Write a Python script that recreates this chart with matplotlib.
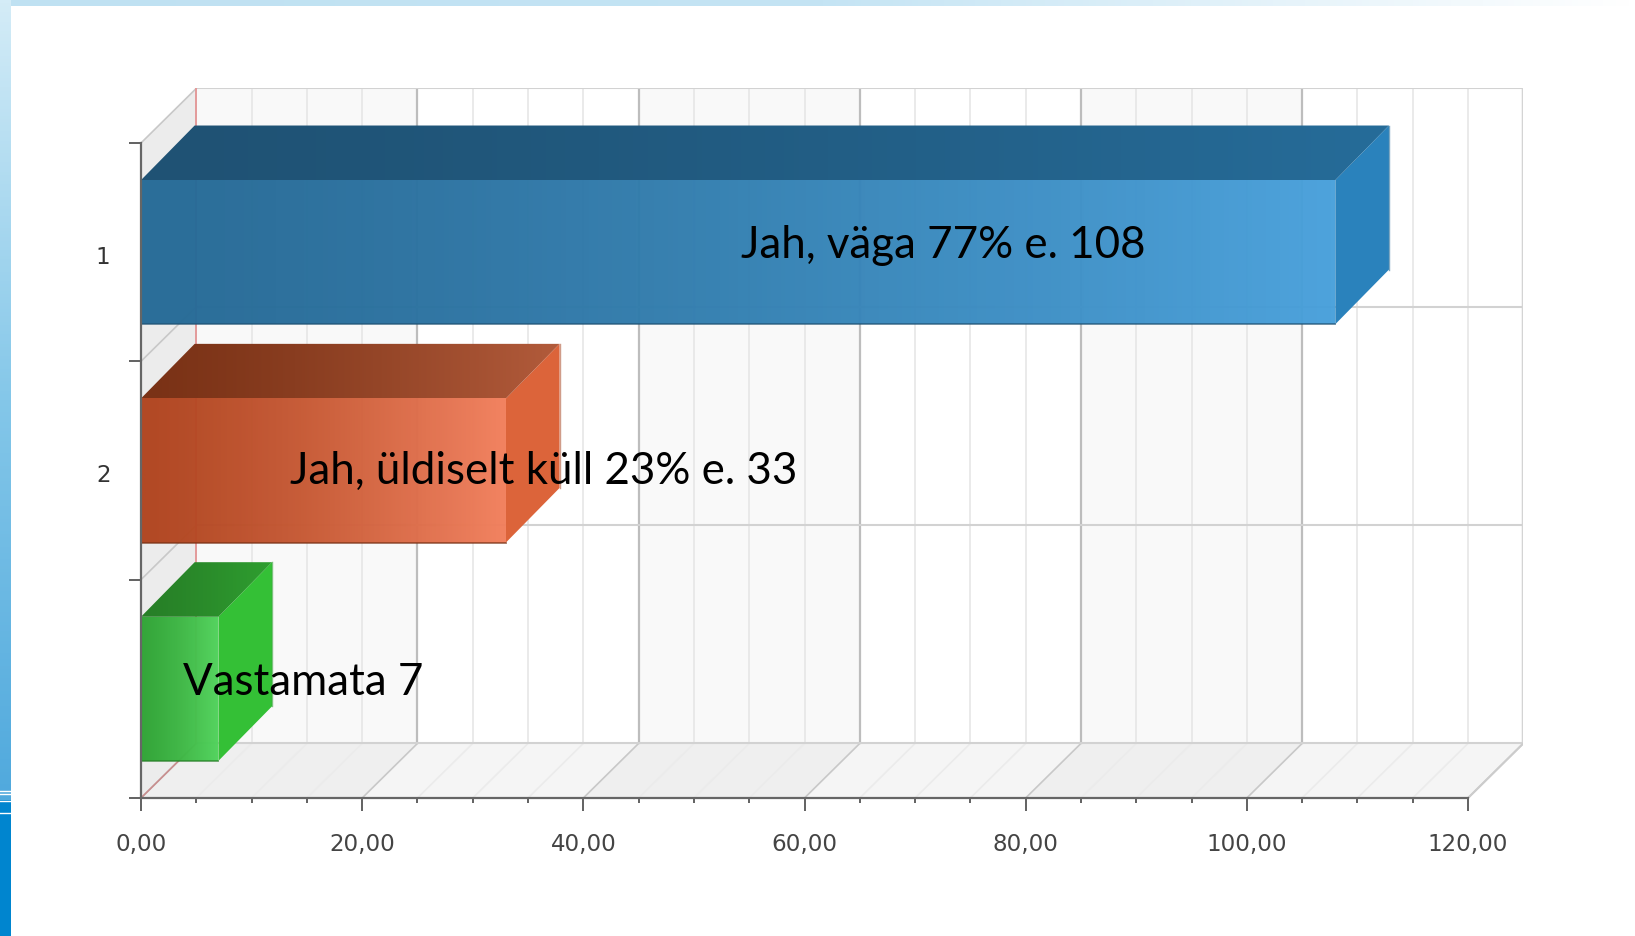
import numpy as np
from matplotlib import pyplot as plt
from matplotlib.colors import LinearSegmentedColormap
from matplotlib.patches import Polygon
from matplotlib.transforms import ScaledTranslation

W, H = 1635, 936

# chart values
categories = ['1', '2', '']
values = [108, 33, 7]
bar_labels = ['Jah, väga 77% e. 108', 'Jah, üldiselt küll 23% e. 33', 'Vastamata 7']
label_x = [54.3, 13.5, 3.8]
label_y = [0.47, 1.505, 2.473]
x_ticks = [0, 20, 40, 60, 80, 100, 120]
x_tick_labels = ['0,00', '20,00', '40,00', '60,00', '80,00', '100,00', '120,00']

front_colors = [('#256a96', '#48a0db'), ('#b0441e', '#f27f5c'), ('#2fa434', '#50d35b')]
top_colors = [('#1f5274', '#266c99'), ('#7a3216', '#b25b3b'), ('#277f27', '#2f9f30')]
side_colors = ['#2a82bc', '#dc643a', '#34c036']

# 3d look: the back plane is shifted by this much in data units
DX, DY = 5, 0.25
BAR_DX = 4.85
BAR_H = 0.66


def gradient_poly(ax, pts, c0, c1, x0, x1, zorder, alpha=1.0):
    """Fill a polygon with a left to right gradient."""
    cmap = LinearSegmentedColormap.from_list('g', [c0, c1])
    ys = [p[1] for p in pts]
    ramp = np.linspace(0, 1, 256) ** 1.3
    img = ax.imshow(ramp.reshape(1, -1), cmap=cmap, aspect='auto', vmin=0, vmax=1,
                    extent=(x0, x1, max(ys), min(ys)), zorder=zorder, alpha=alpha)
    clip = Polygon(pts, closed=True, transform=ax.transData, fc='none', ec='none')
    ax.add_patch(clip)
    img.set_clip_path(clip)


def draw_background(fig):
    """Blue slide decoration on the left and top edges."""
    bg = fig.add_axes([0, 0, 1, 1], zorder=0)
    bg.axis('off')
    left = LinearSegmentedColormap.from_list('l', ['#d4ecf7', '#84c7e9', '#50a9dd'])
    bg.imshow(np.linspace(0, 1, 256).reshape(-1, 1), cmap=left, aspect='auto',
              extent=(0, 11, 800, 0))
    bg.fill_between([0, 11], 800, H, color='#0085cf', lw=0)
    top = LinearSegmentedColormap.from_list('t', ['#bfe1f2', '#c4e4f4', '#ffffff'])
    bg.imshow(np.linspace(0, 1, 256).reshape(1, -1), cmap=top, aspect='auto',
              extent=(11, W, 6, 0))
    for y in [790.5, 794, 801, 813]:
        bg.plot([0, 11], [y, y], color='white', lw=1.0)
    bg.set_xlim(0, W)
    bg.set_ylim(H, 0)


def draw_walls(ax):
    """Back wall, left wall and floor with their grid lines."""
    for i in range(0, 120, 20):
        if i % 40 == 0:
            ax.fill([i + DX, i + 20 + DX, i + 20 + DX, i + DX],
                    [-DY, -DY, 3 - DY, 3 - DY], color='#f9f9f9', lw=0, zorder=1)
            floor = '#efefef'
        else:
            floor = '#f5f5f5'
        ax.fill([i, i + 20, i + 20 + DX, i + DX], [3, 3, 3 - DY, 3 - DY],
                color=floor, lw=0, zorder=1)
    ax.fill([0, DX, DX, 0], [0, -DY, 3 - DY, 3], color='#ececec', lw=0, zorder=1)

    for v in range(5, 125, 5):
        major = v % 20 == 0
        ax.plot([v + DX, v + DX], [-DY, 3 - DY], color='#bdbdbd' if major else '#e8e8e8',
                lw=1.6 if major else 1.3, zorder=2)
        ax.plot([v, v + DX], [3, 3 - DY], color='#c8c8c8' if major else '#ebebeb',
                lw=1.2, zorder=2)
    for y in [0, 1, 2, 3]:
        ax.plot([DX, 125], [y - DY, y - DY], color='#d2d2d2', lw=1.5, zorder=2)
        ax.plot([0, DX], [y, y - DY], color='#c8c8c8', lw=1.2, zorder=2)
    ax.plot([125, 125], [-DY, 3 - DY], color='#d4d4d4', lw=1.6, zorder=2)
    ax.plot([120, 125], [3, 3 - DY], color='#cccccc', lw=1.5, zorder=2)
    ax.plot([DX, DX], [-DY, 3 - DY], color='#e39a9a', lw=1.4, zorder=3)
    ax.plot([0, DX], [3, 3 - DY], color='#c98e8e', lw=1.2, zorder=3)


def draw_bar(ax, pos, value, front, top, side):
    y0 = pos - BAR_H / 2
    y1 = pos + BAR_H / 2
    ax.fill([value, value + BAR_DX, value + BAR_DX, value], [y0, y0 - DY, y1 - DY, y1],
            color=side, lw=0, zorder=4)
    gradient_poly(ax, [(0, y0), (BAR_DX, y0 - DY), (value + BAR_DX, y0 - DY), (value, y0)],
                  top[0], top[1], 0, value + BAR_DX, 4)
    gradient_poly(ax, [(0, y0), (value, y0), (value, y1), (0, y1)],
                  front[0], front[1], 0, value, 5, alpha=0.97)
    ax.plot([0, value], [y1, y1], color=top[0], lw=1.3, alpha=0.7, zorder=6)
    ax.plot([value + BAR_DX, value + BAR_DX], [y0 - DY, y1 - DY], color=top[1], lw=1.0, alpha=0.6, zorder=6)


fig = plt.figure(figsize=(W / 100, H / 100), dpi=100)
draw_background(fig)

ax = fig.add_axes([141 / W, 1 - 798 / H, (1523.3 - 141) / W, (798 - 88.4) / H], zorder=1)
ax.patch.set_alpha(0)
draw_walls(ax)
positions = np.arange(len(values)) + 0.5
for i in range(len(values)):
    draw_bar(ax, positions[i], values[i], front_colors[i], top_colors[i], side_colors[i])
    ax.text(label_x[i], label_y[i], bar_labels[i], family='Lato', fontsize=31.6, color='black',
            ha='left', va='center', zorder=8)

ax.set_xlim(0, 125)
ax.set_ylim(3, -DY)
for name in ['top', 'right']:
    ax.spines[name].set_visible(False)
ax.spines['left'].set_bounds(0, 3)
ax.spines['bottom'].set_bounds(0, 120)
for name in ['left', 'bottom']:
    ax.spines[name].set_color('#666666')
    ax.spines[name].set_linewidth(1.6)
    ax.spines[name].set_zorder(7)

ax.set_xticks(x_ticks)
ax.set_xticklabels(x_tick_labels, fontsize=16.6, color='#444444')
ax.set_xticks([v for v in range(5, 120, 5) if v % 20 != 0], minor=True)
ax.tick_params(axis='x', which='major', length=9, width=1.3, color='#555555', pad=16)
ax.tick_params(axis='x', which='minor', length=3.5, width=1.3, color='#555555')
ax.set_yticks([0, 1, 2, 3])
ax.set_yticklabels([])
ax.set_yticks(positions, minor=True)
ax.set_yticklabels(categories, minor=True, fontsize=16.6, color='#333333')
ax.tick_params(axis='y', which='major', length=9, width=1.3, color='#555555')
ax.tick_params(axis='y', which='minor', length=0, pad=22)
for lab in ax.get_yticklabels(minor=True):
    lab.set_transform(lab.get_transform() + ScaledTranslation(0, -2 / 72, fig.dpi_scale_trans))

fig.savefig('out.png', dpi=100)
